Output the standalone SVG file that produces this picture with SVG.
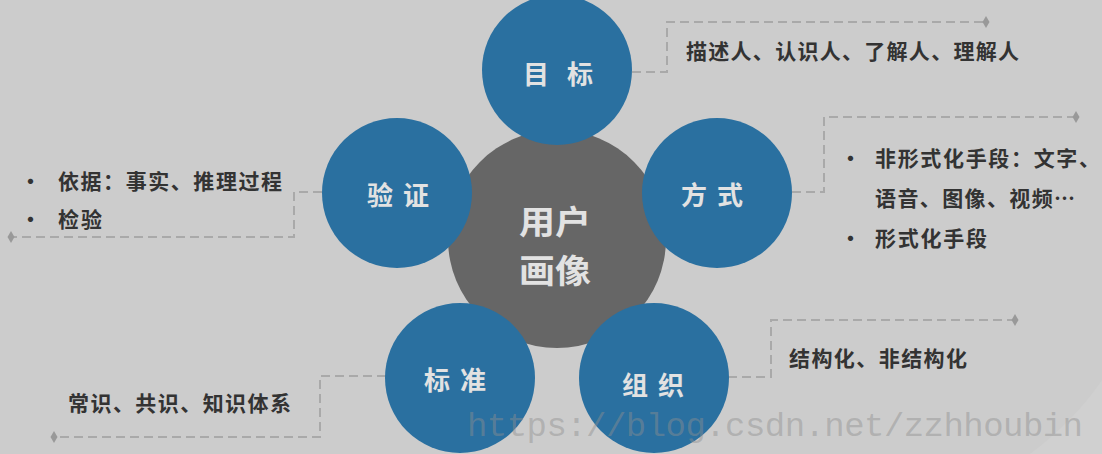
<svg xmlns="http://www.w3.org/2000/svg" width="1102" height="454" viewBox="0 0 1102 454">
<defs>
<style>
.bg{fill:#cccccc}
.hub{fill:#666666}
.node{fill:#2a70a0}
.nl{font-family:"Noto Sans CJK SC","Noto Sans",sans-serif;font-weight:700;fill:#e2e2e2;text-anchor:middle;dominant-baseline:central}
.lab{font-family:"Noto Sans CJK SC","Noto Sans",sans-serif;font-weight:700;fill:#333333;font-size:21px;dominant-baseline:central}
.dash{fill:none;stroke:#a9a9a9;stroke-width:2;stroke-dasharray:9 5}
.wm{font-family:"Liberation Mono",monospace;font-size:34px;fill:#8f8f8f;fill-opacity:0.45}
</style>
<marker id="dia" viewBox="-6 -7 12 14" markerWidth="12" markerHeight="14" refX="0" refY="0" orient="0" markerUnits="userSpaceOnUse">
<path d="M-3.5,0 L0,-6 L3.5,0 L0,6 Z" fill="#999999"/>
</marker>
</defs>
<rect class="bg" x="0" y="0" width="1102" height="454"/>
<path d="M1030,454 Q1075,420 1102,380 L1102,454 Z" fill="#d0d0d0"/>

<g id="connectors">
<path class="dash" d="M632,72 H667 V22 H986" marker-end="url(#dia)"/>
<path class="dash" d="M792,192 H824 V117 H1076" marker-end="url(#dia)"/>
<path class="dash" d="M322,192 H294 V237 H11" marker-end="url(#dia)"/>
<path class="dash" d="M386,376 H320 V437 H54" marker-end="url(#dia)"/>
<path class="dash" d="M728,377 H771 V320 H1015" marker-end="url(#dia)"/>
</g>

<g id="hub">
<circle class="hub" cx="557" cy="239" r="109"/>
<text class="nl" x="555" y="220" font-size="33" textLength="72" lengthAdjust="spacingAndGlyphs">用户</text>
<text class="nl" x="555" y="269" font-size="33" textLength="72" lengthAdjust="spacingAndGlyphs">画像</text>
</g>

<g id="node-goal">
<circle class="node" cx="557" cy="70" r="75"/>
<text class="nl" x="558" y="72" font-size="26" textLength="70" lengthAdjust="spacing">目标</text>
</g>
<g id="node-verify">
<circle class="node" cx="397" cy="193" r="75"/>
<text class="nl" x="398" y="193" font-size="26" textLength="62" lengthAdjust="spacing">验证</text>
</g>
<g id="node-method">
<circle class="node" cx="717" cy="193" r="75"/>
<text class="nl" x="712" y="193" font-size="26" textLength="62" lengthAdjust="spacing">方式</text>
</g>
<g id="node-standard">
<circle class="node" cx="460" cy="378" r="75"/>
<text class="nl" x="455" y="378" font-size="26" textLength="62" lengthAdjust="spacing">标准</text>
</g>
<g id="node-org">
<circle class="node" cx="654" cy="378" r="75"/>
<text class="nl" x="653" y="383" font-size="26" textLength="62" lengthAdjust="spacing">组织</text>
</g>

<g id="label-goal">
<text class="lab" x="686" y="50" textLength="333" lengthAdjust="spacing">描述人、认识人、了解人、理解人</text>
</g>
<g id="label-method">
<text class="lab" x="840" y="157">•</text>
<text class="lab" x="875" y="157" textLength="225" lengthAdjust="spacing">非形式化手段：文字、</text>
<text class="lab" x="875" y="197" textLength="200" lengthAdjust="spacing">语音、图像、视频…</text>
<text class="lab" x="840" y="237">•</text>
<text class="lab" x="875" y="237" textLength="112" lengthAdjust="spacing">形式化手段</text>
</g>
<g id="label-verify">
<text class="lab" x="20" y="180">•</text>
<text class="lab" x="58" y="180" textLength="224" lengthAdjust="spacing">依据：事实、推理过程</text>
<text class="lab" x="20" y="218">•</text>
<text class="lab" x="58" y="218" textLength="44" lengthAdjust="spacing">检验</text>
</g>
<g id="label-standard">
<text class="lab" x="68" y="402" textLength="223" lengthAdjust="spacing">常识、共识、知识体系</text>
</g>
<g id="label-org">
<text class="lab" x="789" y="357" textLength="178" lengthAdjust="spacing">结构化、非结构化</text>
</g>

<text class="wm" x="467" y="436" textLength="616" lengthAdjust="spacing">https://blog.csdn.net/zzhhoubin</text>
</svg>
